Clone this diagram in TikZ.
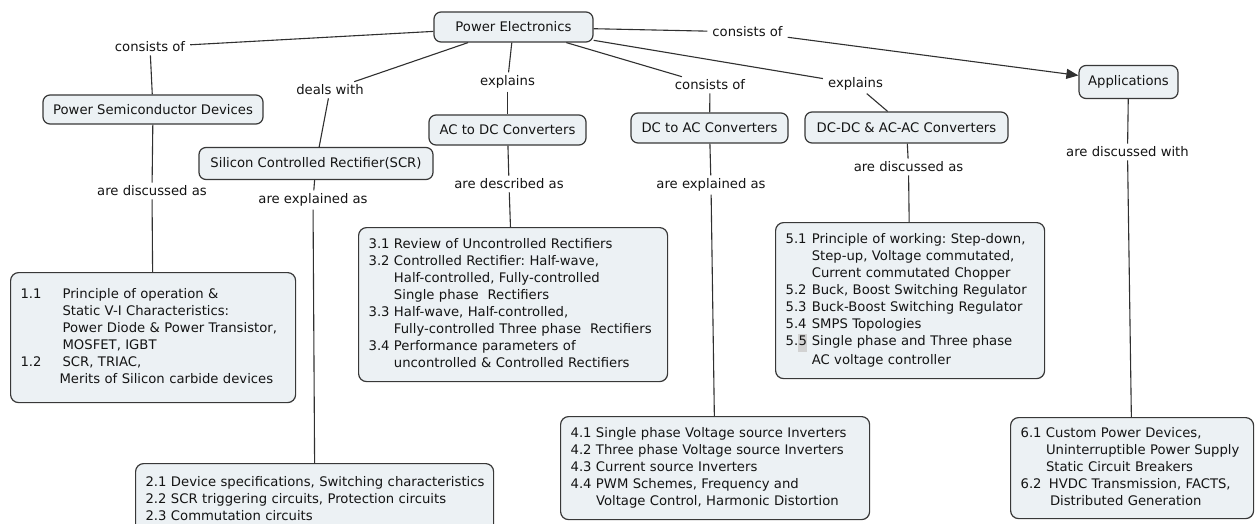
\documentclass[tikz,border=0pt]{standalone}
\usepackage{fontspec}
\setmainfont{DejaVu Sans}
\usetikzlibrary{arrows.meta}
\definecolor{boxc}{HTML}{ECF1F4}
\definecolor{bordc}{HTML}{383838}
\definecolor{linec}{HTML}{303030}
\definecolor{txtc}{HTML}{141414}
\definecolor{hlc}{HTML}{D2D2D2}
\frenchspacing
\begin{document}
\begin{tikzpicture}[x=1pt,y=-1pt,
  every node/.style={font=\fontsize{13.2}{17}\selectfont\frenchspacing, text=txtc},
  concept/.style={draw=bordc, fill=boxc, rounded corners=7pt, line width=1.2pt, inner sep=0pt},
  linkl/.style={inner xsep=5pt, inner ysep=3pt},
  infobox/.style={draw=bordc, fill=boxc, rounded corners=8pt, line width=1.2pt, anchor=north west,
                  inner xsep=10pt, inner ysep=0pt, align=left},
  conn/.style={draw=linec, line width=1.1pt},
  arr/.style={conn, -{Triangle[length=12pt,width=10pt]}}
]
\useasboundingbox (0,0) rectangle (1255,524);
\clip (0,0) rectangle (1255,524);
\fill[white] (0,0) rectangle (1255,524);

% concepts
\node[concept, minimum width=159pt, minimum height=30pt] (pe) at (513.5,27) {Power Electronics};
\node[concept, minimum width=220pt, minimum height=29pt] (psd) at (153,109.5) {Power Semiconductor Devices};
\node[concept, minimum width=234pt, minimum height=32pt] (scr) at (316,163.5) {Silicon Controlled Rectifier(SCR)};
\node[concept, minimum width=157pt, minimum height=30pt] (acdc) at (507.5,130) {AC to DC Converters};
\node[concept, minimum width=157pt, minimum height=30pt] (dcac) at (709.5,128) {DC to AC Converters};
\node[concept, minimum width=203pt, minimum height=31pt] (dcdc) at (906.5,127.5) {DC-DC \& AC-AC Converters};
\node[concept, minimum width=99pt, minimum height=33pt] (app) at (1128.5,82) {Applications};

% info boxes
\node[infobox, text width=265pt, minimum height=130pt] (b1) at (10,272) {%
\begin{tabular}{@{}l@{\hspace{21pt}}l@{}}
1.1 & Principle of operation \& \\
 & Static V-I Characteristics: \\
 & Power Diode \& Power Transistor, \\
 & MOSFET, IGBT \\
1.2 & SCR, TRIAC, \\
 & \hspace{-3pt}Merits of Silicon carbide devices
\end{tabular}};

\node[infobox, text width=338pt, minimum height=72pt] (b2) at (135,463) {%
\begin{tabular}{@{}l@{}}
2.1 Device specifications, Switching characteristics \\
2.2 SCR triggering circuits, Protection circuits \\
2.3 Commutation circuits
\end{tabular}};

\node[infobox, text width=289pt, minimum height=154pt] (b3) at (358,227) {%
\begin{tabular}{@{}l@{ }l@{}}
3.1 & Review of Uncontrolled Rectifiers \\
3.2 & Controlled Rectifier: Half-wave, \\
 & Half-controlled, Fully-controlled \\
 & Single phase\ \ Rectifiers \\
3.3 & Half-wave, Half-controlled, \\
 & Fully-controlled Three phase\ \ Rectifiers \\
3.4 & Performance parameters of \\
 & uncontrolled \& Controlled Rectifiers
\end{tabular}};

\node[infobox, text width=289pt, minimum height=103pt] (b4) at (560,416) {%
\begin{tabular}{@{}l@{ }l@{}}
4.1 & Single phase Voltage source Inverters \\
4.2 & Three phase Voltage source Inverters \\
4.3 & Current source Inverters \\
4.4 & PWM Schemes, Frequency and \\
 & Voltage Control, Harmonic Distortion
\end{tabular}};

\node[infobox, text width=249pt, minimum height=156pt] (b5) at (775,222) {%
\begin{tabular}{@{}l@{ }l@{}}
5.1 & Principle of working: Step-down, \\
 & Step-up, Voltage commutated, \\
 & Current commutated Chopper \\
5.2 & Buck, Boost Switching Regulator \\
5.3 & Buck-Boost Switching Regulator \\
5.4 & SMPS Topologies \\
5.{\setlength{\fboxsep}{0.4pt}\colorbox{hlc}{\rule[-6pt]{0pt}{17pt}5}} & Single phase and Three phase \\
 & AC voltage controller
\end{tabular}};

\node[infobox, text width=223pt, minimum height=101pt] (b6) at (1010,417) {%
\begin{tabular}{@{}l@{ }l@{}}
6.1 & Custom Power Devices, \\
 & Uninterruptible Power Supply \\
 & Static Circuit Breakers \\
6.2 & \hspace{3pt}HVDC Transmission, FACTS, \\
 & \hspace{4pt}Distributed Generation
\end{tabular}};

% linking phrases
\node[linkl] (l1) at (150,47) {consists of};
\node[linkl] (l2) at (330,90) {deals with};
\node[linkl] (l3) at (507.5,82) {explains};
\node[linkl] (l4) at (710,85) {consists of};
\node[linkl] (l5) at (855.5,84) {explains};
\node[linkl] (l6) at (747.5,32) {consists of};
\node[linkl] (l7) at (152,191) {are discussed as};
\node[linkl] (l8) at (313,200) {are explained as};
\node[linkl] (l9) at (509,184) {are described as};
\node[linkl] (l10) at (711,185) {are explained as};
\node[linkl] (l11) at (908.5,167) {are discussed as};
\node[linkl] (l12) at (1127.5,152) {are discussed with};

% connectors
\draw[conn] (pe) -- (l1);  \draw[conn] (l1) -- (psd);
\draw[conn] (pe) -- (l2);  \draw[conn] (l2) -- (scr);
\draw[conn] (pe) -- (l3);  \draw[conn] (l3) -- (acdc);
\draw[conn] (pe) -- (l4);  \draw[conn] (l4) -- (dcac);
\draw[conn] (pe) -- (l5);  \draw[conn] (l5) -- (dcdc);
\draw[conn] (pe) -- (l6);  \draw[arr] (l6) -- (app);
\draw[conn] (psd) -- (l7); \draw[conn] (l7) -- (b1);
\draw[conn] (scr) -- (l8); \draw[conn] (l8) -- (b2.north);
\draw[conn] (acdc) -- (l9); \draw[conn] (l9) -- (b3);
\draw[conn] (dcac) -- (l10); \draw[conn] (l10) -- (b4);
\draw[conn] (dcdc) -- (l11); \draw[conn] (l11) -- (b5);
\draw[conn] (app) -- (l12); \draw[conn] (l12) -- (b6);
\end{tikzpicture}
\end{document}
